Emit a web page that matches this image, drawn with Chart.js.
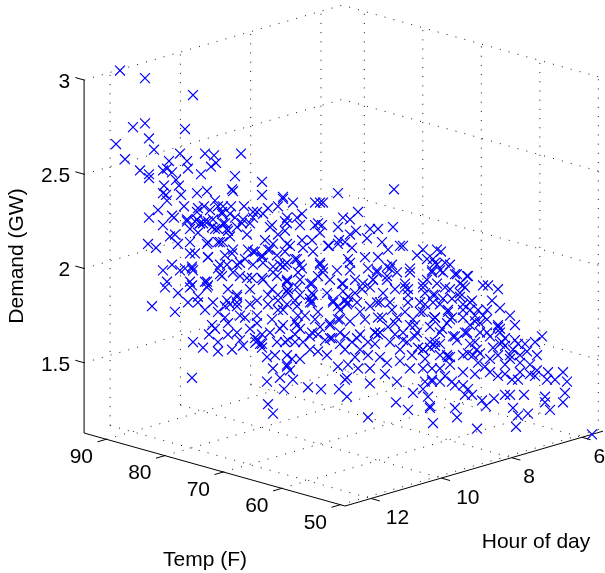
<!DOCTYPE html>
<html><head><meta charset="utf-8">
<style>html,body{margin:0;padding:0;background:#fff}canvas{display:block}</style>
<script src="https://cdn.jsdelivr.net/npm/chart.js@4"></script></head>
<body><canvas id="c" width="605" height="573"></canvas>
<script>
const tempTicks=[50,60,70,80,90];
const hourTicks=[6,8,10,12];
const demandTicks=[1.5,2,2.5,3];
const tempRange=[49.2,93.8], hourRange=[5.4,12.74], demandRange=[1.127,3];
// Marks: position across the view, and height on the Demand scale.
const acrossA=[120,145,193,133,145,185,116,149,154,125,169,180,187,205,214,241,188,216,211,201,140,149,149,163,167,172,176,235,232,233,164,179,163,166,167,181,197,207,184,158,149,172,174,187,198,204,218,223,231,244,222,235,243,197,203,213,225,197];
const demandA=[3.05,3.01,2.92,2.75,2.77,2.74,2.66,2.69,2.63,2.58,2.57,2.61,2.57,2.61,2.60,2.61,2.53,2.56,2.54,2.50,2.52,2.50,2.48,2.52,2.53,2.51,2.47,2.49,2.42,2.41,2.44,2.44,2.40,2.39,2.36,2.39,2.40,2.41,2.33,2.31,2.27,2.28,2.27,2.26,2.32,2.33,2.33,2.33,2.33,2.33,2.30,2.27,2.26,2.26,2.24,2.26,2.24,2.30];
const acrossB=[262,262,283,253,257,268,278,287,222,187,200,208,223,212,237,250,272,198,190,218,228,247,170,178,190,148,156,218,208,230,265,278,287,273,190,208,233,225,248,255,262,268,277,285,172,163,192,185,218,227,237,245,253,263,273,283,167,165,190,207,220,240,252,263,277,287,178,198,188,213,227,237,257,268,278,288,152,237,225,190,207];
const demandB=[2.39,2.46,2.38,2.30,2.30,2.32,2.33,2.27,2.29,2.25,2.24,2.25,2.24,2.22,2.22,2.24,2.23,2.19,2.21,2.21,2.20,2.18,2.17,2.13,2.14,2.13,2.11,2.14,2.14,2.17,2.15,2.18,2.13,2.13,2.08,2.06,2.10,2.07,2.10,2.09,2.07,2.10,2.07,2.09,2.02,1.99,2.00,2.00,2.00,2.02,2.02,2.05,2.02,2.03,2.01,2.01,1.93,1.90,1.93,1.93,1.97,1.96,1.95,1.94,1.96,1.94,1.87,1.85,1.82,1.82,1.83,1.85,1.83,1.86,1.83,1.87,1.80,1.82,1.80,1.90,1.90];
const acrossC=[175,198,230,237,218,245,257,268,278,287,212,215,228,237,228,209,193,203,218,218,232,243,258,262,257,270,277,285,267,275,287,273,192,267,280,284,268,273,255,260,262,256];
const demandC=[1.77,1.82,1.81,1.80,1.77,1.74,1.75,1.81,1.78,1.81,1.70,1.68,1.71,1.66,1.65,1.65,1.61,1.58,1.61,1.56,1.57,1.59,1.62,1.65,1.71,1.66,1.61,1.61,1.53,1.54,1.48,1.47,1.42,1.40,1.42,1.36,1.28,1.23,1.63,1.60,1.58,1.61];
const acrossD=[394,338,283,293,315,320,323,358,343,350,302,297,300,285,318,315,322,338,370,378,393,320,285,356,350,367,328,329,339,345,338,352,302,312,290,303,313,382,388,400,403,423,437,348,365,378,392,417,410,427,435,297,285,302,320,323,337,350,368,377,387,397,432,287,318,312,300,343,330,363,373,387,405,427,437,287,300,313,327,343,355,370,383,395,408,423,433,312,348,333,377,408,425];
const demandD=[2.42,2.40,2.37,2.35,2.35,2.35,2.35,2.30,2.27,2.26,2.29,2.27,2.23,2.25,2.24,2.23,2.23,2.22,2.21,2.21,2.22,2.19,2.20,2.20,2.18,2.16,2.12,2.12,2.15,2.14,2.13,2.11,2.15,2.15,2.12,2.11,2.09,2.14,2.10,2.12,2.12,2.10,2.10,2.05,2.06,2.06,2.02,2.07,2.00,2.05,2.03,2.05,2.02,2.00,2.03,2.00,1.99,1.99,2.00,1.98,2.01,1.98,1.99,1.93,1.96,1.92,1.94,1.92,1.94,1.92,1.94,1.94,1.92,1.94,1.92,1.88,1.86,1.86,1.87,1.88,1.87,1.90,1.87,1.89,1.86,1.90,1.86,1.82,1.82,1.82,1.82,1.82,1.81];
const acrossE=[310,297,338,347,360,283,318,295,330,340,382,395,420,433,283,312,320,345,360,375,380,395,415,423,430,435,288,295,303,332,340,352,368,390,403,287,300,292,318,327,355,368,380,387,338,348,358,370,287,290,410,423,432,385,397,347,345,293,308,321,339,347,370,413,425,432,423,428,396,408,430,368,433];
const demandE=[1.82,1.80,1.80,1.81,1.77,1.78,1.77,1.72,1.71,1.73,1.74,1.71,1.77,1.73,1.70,1.66,1.69,1.64,1.65,1.66,1.66,1.65,1.64,1.57,1.58,1.61,1.62,1.61,1.61,1.63,1.60,1.61,1.61,1.61,1.62,1.54,1.52,1.52,1.56,1.54,1.53,1.54,1.53,1.50,1.48,1.49,1.47,1.47,1.49,1.46,1.47,1.47,1.47,1.44,1.40,1.42,1.41,1.41,1.37,1.36,1.36,1.32,1.39,1.34,1.40,1.40,1.36,1.32,1.29,1.25,1.26,1.21,1.18];
const acrossF=[441,445,450,437,433,440,455,467,460,465,483,488,498,492,500,510,515,498,500,487,478,487,472,470,448,452,445,435,440,460,463,435,450,463,475,440,455,467,480,490,502,505,518,542,535,435,450,463,477,493,510,527,537];
const demandF=[2.09,2.03,2.02,2.02,2.05,1.99,1.97,1.96,1.92,1.90,1.91,1.91,1.89,1.83,1.79,1.75,1.70,1.70,1.68,1.73,1.78,1.78,1.83,1.78,1.78,1.84,1.90,1.86,1.81,1.85,1.81,1.74,1.73,1.74,1.72,1.66,1.64,1.66,1.66,1.64,1.61,1.63,1.60,1.64,1.61,1.59,1.53,1.54,1.57,1.58,1.54,1.56,1.54];
const acrossG=[513,448,473,498,510,520,463,478,485,498,512,518,520,530,537,548,535,563,555,567,547,565,563,545,545,550,524,505,510,494,482,486,513,528,518,516,477,455,457,592,430,463,468,465,472,440,445,452,455,432];
const demandG=[1.57,1.53,1.54,1.54,1.52,1.50,1.45,1.50,1.48,1.43,1.41,1.41,1.45,1.49,1.46,1.45,1.43,1.45,1.41,1.40,1.41,1.34,1.29,1.32,1.29,1.25,1.33,1.33,1.33,1.31,1.30,1.27,1.26,1.23,1.22,1.16,1.15,1.26,1.21,1.12,1.27,1.38,1.36,1.33,1.33,1.40,1.43,1.40,1.38,1.41];
const acrossH=[310,312,340,345,348,342,320,300,323,310,297,295,305,315,297,310,333,357,362,355,373,387,390,377,350,370,380,390,378,365,350,338,330,340,375,378,388,397,392,357,330,318,298];
const demandH=[1.84,1.87,1.78,1.83,1.85,1.92,2.02,2.02,1.98,1.92,1.90,1.83,1.75,1.73,1.70,1.64,1.83,1.82,1.89,1.94,1.94,1.96,2.00,1.99,2.03,1.80,1.82,1.82,1.74,1.73,1.72,1.73,1.70,1.66,1.66,1.65,1.69,1.74,1.78,1.63,1.63,1.65,1.75];
const acrossI=[448,452,453,457,423,418,407,403,413,423,433,443,450,463,468,457,443,432,423,410,405,408,425,420,405,460,470,463,475,483,480,470,435,430,442,465,487,498,500,475,440,430,447,468,480,500,505,417,410,447];
const demandI=[1.77,1.74,1.64,1.62,1.57,1.58,1.61,1.66,1.73,1.77,1.82,1.84,1.89,1.91,1.96,1.97,1.98,1.98,1.92,1.98,1.90,1.89,1.87,1.82,1.77,1.87,1.82,1.78,1.75,1.75,1.71,1.70,1.74,1.69,1.68,1.66,1.66,1.69,1.66,1.61,1.60,1.61,1.54,1.55,1.55,1.60,1.59,1.66,1.70,1.71];
const acrossJ=[200,195,205,220,223,227,215,253,263,270,287,242,207,195,193,192,208,220,232,240,253,262,270,280,287,295,298,233,222,205,208,247,262,273,287,288,272,250,228,237,192,278];
const demandJ=[2.24,2.25,2.25,2.14,2.14,2.21,2.21,2.27,2.29,2.22,2.24,2.24,2.13,2.08,1.99,2.01,2.06,2.02,2.08,2.03,2.09,2.06,2.10,2.02,2.03,2.05,1.98,1.98,1.96,1.93,1.91,1.95,1.95,1.98,1.93,1.89,1.89,1.89,1.89,1.86,1.91,1.86];
const acrossK=[225,250,262,272,240,280,295,310,325,345,360,375,400,412,415,440,470,490,505,515,525,505,490,475,530,520,450,440,425,400,300,250,240,205,180,175,163,215,230,210];
const demandK=[1.74,1.68,1.60,1.73,1.62,1.68,1.65,1.57,1.62,1.57,1.57,1.60,1.57,1.54,1.70,1.54,1.60,1.52,1.49,1.62,1.60,1.44,1.45,1.44,1.44,1.54,1.49,1.47,1.52,1.51,1.68,1.81,1.75,1.78,1.99,2.18,2.23,2.36,2.29,2.31];

const across=[...acrossA,...acrossB,...acrossC,...acrossD,...acrossE,...acrossF,...acrossG,...acrossH,...acrossI,...acrossJ,...acrossK];
const demand=[...demandA,...demandB,...demandC,...demandD,...demandE,...demandF,...demandG,...demandH,...demandI,...demandJ,...demandK];

// Orthographic view of the 3-D box, expressed in the two chart scales.
const view={fx:345,tx:5.85,hx:35.15,ty:1.636/188.5,hy:10.2/188.5};
const [Tlo,Thi]=tempRange,[Hlo,Hhi]=hourRange,[Zlo,Zhi]=demandRange;
function P(T,H,Z){
  return {x:view.fx-view.tx*(T-Tlo)+view.hx*(Hhi-H), y:Z+view.ty*(T-Thi)+view.hy*(Hhi-H)};
}
const line=(pts,o)=>Object.assign({type:'scatter',showLine:true,data:pts,pointRadius:0,fill:false,order:5,borderJoinStyle:'miter'},o);
const dotted={borderColor:'#111',borderWidth:1,borderDash:[1,8.2]};
const solid={borderColor:'#000',borderWidth:1,order:3};
const ds=[];
hourTicks.forEach(h=>{
  ds.push(line([P(Thi,h,Zlo),P(Tlo,h,Zlo)],dotted));
  ds.push(line([P(Thi,h,Zlo),P(Thi,h,Zhi)],dotted));
});
tempTicks.forEach(t=>{
  ds.push(line([P(t,Hhi,Zlo),P(t,Hlo,Zlo)],dotted));
  ds.push(line([P(t,Hlo,Zlo),P(t,Hlo,Zhi)],dotted));
});
demandTicks.forEach(z=>{
  ds.push(line([P(Thi,Hhi,z),P(Thi,Hlo,z),P(Tlo,Hlo,z)],dotted));
});
ds.push(line([P(Thi,Hhi,Zlo),P(Tlo,Hhi,Zlo),P(Tlo,Hlo,Zlo)],solid));
ds.push(line([P(Thi,Hhi,Zlo),P(Thi,Hhi,Zhi)],solid));
tempTicks.forEach(t=>ds.push(line([P(t,Hhi,Zlo),P(t,Hhi+0.25,Zlo)],solid)));
hourTicks.forEach(h=>ds.push(line([P(Tlo,h,Zlo),P(Tlo-1.5,h,Zlo)],solid)));
demandTicks.forEach(z=>ds.push(line([P(Thi,Hhi,z),P(Thi+1.5,Hhi,z)],solid)));
ds.push({type:'scatter',data:across.map((x,i)=>({x,y:demand[i]})),pointStyle:'crossRot',pointRadius:7,pointBorderColor:'#0000ff',borderColor:'#0000ff',pointBorderWidth:1.2,backgroundColor:'transparent',showLine:false,order:1});

const FONT='21px "Liberation Sans"';
const labels={
 id:'labels',
 afterDraw(c){
  const g=c.ctx,sx=c.scales.x,sy=c.scales.y;
  g.save();g.fillStyle='#000';g.font=FONT;g.textBaseline='middle';
  const put=(t,px,py,a='center')=>{g.textAlign=a;g.fillText(String(t),px,py);};
  tempTicks.forEach(t=>{const p=P(t,Hhi,Zlo);put(t,sx.getPixelForValue(p.x)-25,sy.getPixelForValue(p.y)+18);});
  hourTicks.forEach(h=>{const p=P(Tlo,h,Zlo);put(h,sx.getPixelForValue(p.x)+(h>9?26.5:17.5),sy.getPixelForValue(p.y)+20);});
  demandTicks.forEach(z=>{const p=P(Thi,Hhi,z);put(z,sx.getPixelForValue(p.x)-14,sy.getPixelForValue(p.y)+2,'right');});
  put('Temp (F)',205,560);
  put('Hour of day',536,542);
  g.translate(17,256);g.rotate(-Math.PI/2);put('Demand (GW)',0,0);
  g.restore();
 }
};
new Chart(document.getElementById('c'),{
 type:'scatter',
 data:{datasets:ds},
 plugins:[labels],
 options:{responsive:false,animation:false,devicePixelRatio:1,
  layout:{padding:0,autoPadding:false},
  plugins:{legend:{display:false},tooltip:{enabled:false}},
  scales:{
   x:{type:'linear',display:false,min:0,max:605},
   y:{type:'linear',display:false,min:3-(573-80)/188.5,max:3+80/188.5}
  }}
});
</script></body></html>
